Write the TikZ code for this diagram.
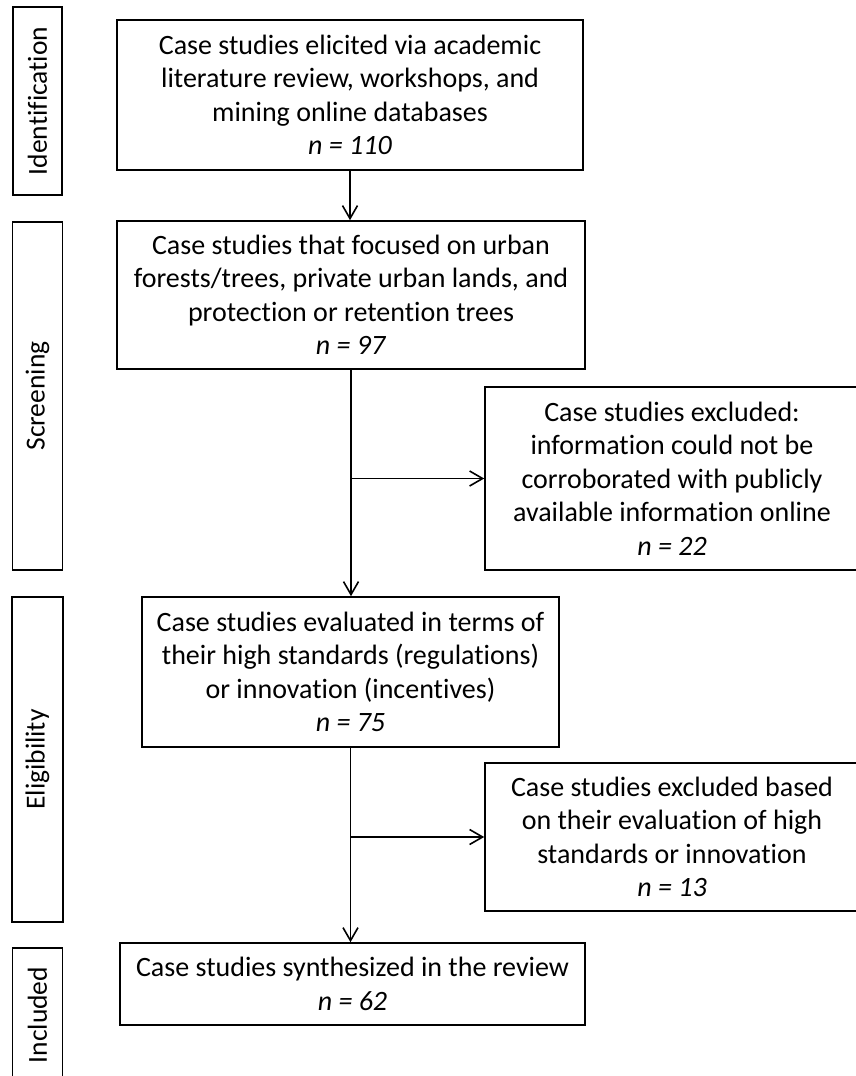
\documentclass[tikz,border=0pt]{standalone}
\usepackage{fontspec}
\setmainfont{Carlito}[Ligatures=NoCommon]
\usetikzlibrary{arrows.meta}

\tikzset{
  mainbox/.style={draw, line width=1.6pt, align=center, inner sep=0pt,
    font=\fontsize{28}{33.5}\selectfont},
  phasebox/.style={draw, line width=1.6pt, inner sep=0pt, rotate=90,
    font=\fontsize{27.5}{30}\selectfont},
  flow/.style={line width=1.6pt, -{Straight Barb[length=13pt,width=15pt,line width=1.6pt]}}
}

\begin{document}
\begin{tikzpicture}[x=1pt,y=-1pt]
            \useasboundingbox (0,0) rectangle (856,1076);

            % phases on the left
            \node[phasebox, minimum width=188pt, minimum height=49pt] (ident) at (37.5,101) {Identification};
            \node[phasebox, minimum width=348pt, minimum height=50pt] (screen) at (37.5,396) {Screening};
            \node[phasebox, minimum width=325pt, minimum height=51pt] (elig) at (37.5,759.5) {Eligibility};
            \node[phasebox, minimum width=134pt, minimum height=50pt] (incl) at (37.5,1015) {Included};

            % main column
            \node[mainbox, minimum width=466pt, minimum height=150pt] (found) at (350,95)
                {Case studies elicited via academic\\literature review, workshops, and\\mining online databases\\\textit{n = 110}};
            \node[mainbox, minimum width=468pt, minimum height=148pt] (focus) at (351,295)
                {Case studies that focused on urban\\forests/trees, private urban lands, and\\protection or retention trees\\\textit{n = 97}};
            \node[mainbox, minimum width=417pt, minimum height=150pt] (eval) at (350.5,672)
                {Case studies evaluated in terms of\\their high standards (regulations)\\or innovation (incentives)\\\textit{n = 75}};
            \node[mainbox, minimum width=465pt, minimum height=82pt] (synth) at (352.5,984)
                {Case studies synthesized in the review\\\textit{n = 62}};

            % exclusions on the right
            \node[mainbox, minimum width=374pt, minimum height=183pt] (exclA) at (672,478.5)
                {Case studies excluded:\\information could not be\\corroborated with publicly\\available information online\\\textit{n = 22}};
            \node[mainbox, minimum width=374pt, minimum height=148pt] (exclB) at (672,837)
                {Case studies excluded based\\on their evaluation of high\\standards or innovation\\\textit{n = 13}};

            \draw[flow] (found.south) -- (found.south |- focus.north);
            \draw[flow] (focus.south) -- (focus.south |- eval.north);
            \draw[flow] (focus.south |- exclA.west) -- (exclA.west);
            \draw[flow] (eval.south) -- (eval.south |- synth.north);
            \draw[flow] (eval.south |- exclB.west) -- (exclB.west);

        \end{tikzpicture}
\end{document}
